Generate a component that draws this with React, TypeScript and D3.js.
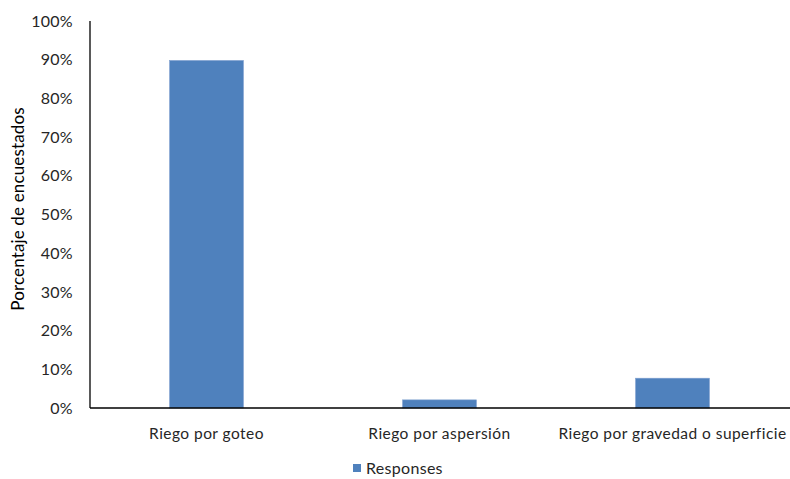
import React from "react";
import * as d3 from "d3";

const categories = ["Riego por goteo", "Riego por aspersión", "Riego por gravedad o superficie"];
const values = [0.898, 0.021, 0.077];
const yTicks = [0, 0.1, 0.2, 0.3, 0.4, 0.5, 0.6, 0.7, 0.8, 0.9, 1.0];
const seriesName = "Responses";

const W = 790;
const H = 479;
const margin = { left: 90, right: 1, top: 21, bottom: 71 };
const FONT = "Lato, 'Liberation Sans', 'DejaVu Sans', sans-serif";
const BAR = "#4f81bd";

export default function App() {
  const x = d3
    .scaleBand<string>()
    .domain(categories)
    .range([margin.left, W - margin.right])
    .paddingInner(0.683)
    .paddingOuter(0.3415);
  const y = d3.scaleLinear().domain([0, 1]).range([H - margin.bottom, margin.top]);
  const fmt = d3.format(".0%");

  return (
    <svg
      width={W}
      height={H}
      style={{ position: "absolute", left: 0, top: 0, background: "#fff" }}
      fontFamily={FONT}
    >
      {yTicks.map((t) => (
        <text
          key={t}
          x={73}
          y={y(t)}
          dy="0.35em"
          textAnchor="end"
          fontSize={16}
          letterSpacing={0.3}
          fill="#262626"
        >
          {fmt(t)}
        </text>
      ))}
      {categories.map((c, i) => (
        <rect
          key={c}
          x={x(c)}
          y={y(values[i])}
          width={x.bandwidth()}
          height={y(0) - y(values[i])}
          fill={BAR}
          stroke="#7ea0cf"
          strokeWidth={0.6}
        />
      ))}
      <line x1={margin.left} x2={margin.left} y1={y(1)} y2={y(0)} stroke="#000" strokeWidth={1.3} />
      <line x1={margin.left} x2={W} y1={y(0)} y2={y(0)} stroke="#000" strokeWidth={1.3} />
      {categories.map((c) => (
        <text
          key={c}
          x={(x(c) as number) + x.bandwidth() / 2}
          y={439}
          textAnchor="middle"
          fontSize={15.5}
          letterSpacing={0.45}
          fill="#262626"
        >
          {c}
        </text>
      ))}
      <text
        transform={`translate(24,209) rotate(-90)`}
        textAnchor="middle"
        fontSize={17}
        letterSpacing={0.15}
        fill="#000"
      >
        Porcentaje de encuestados
      </text>
      <rect x={353} y={464} width={8} height={8} fill={BAR} />
      <text x={366} y={474} fontSize={16} letterSpacing={0.3} fill="#262626">
        {seriesName}
      </text>
    </svg>
  );
}
